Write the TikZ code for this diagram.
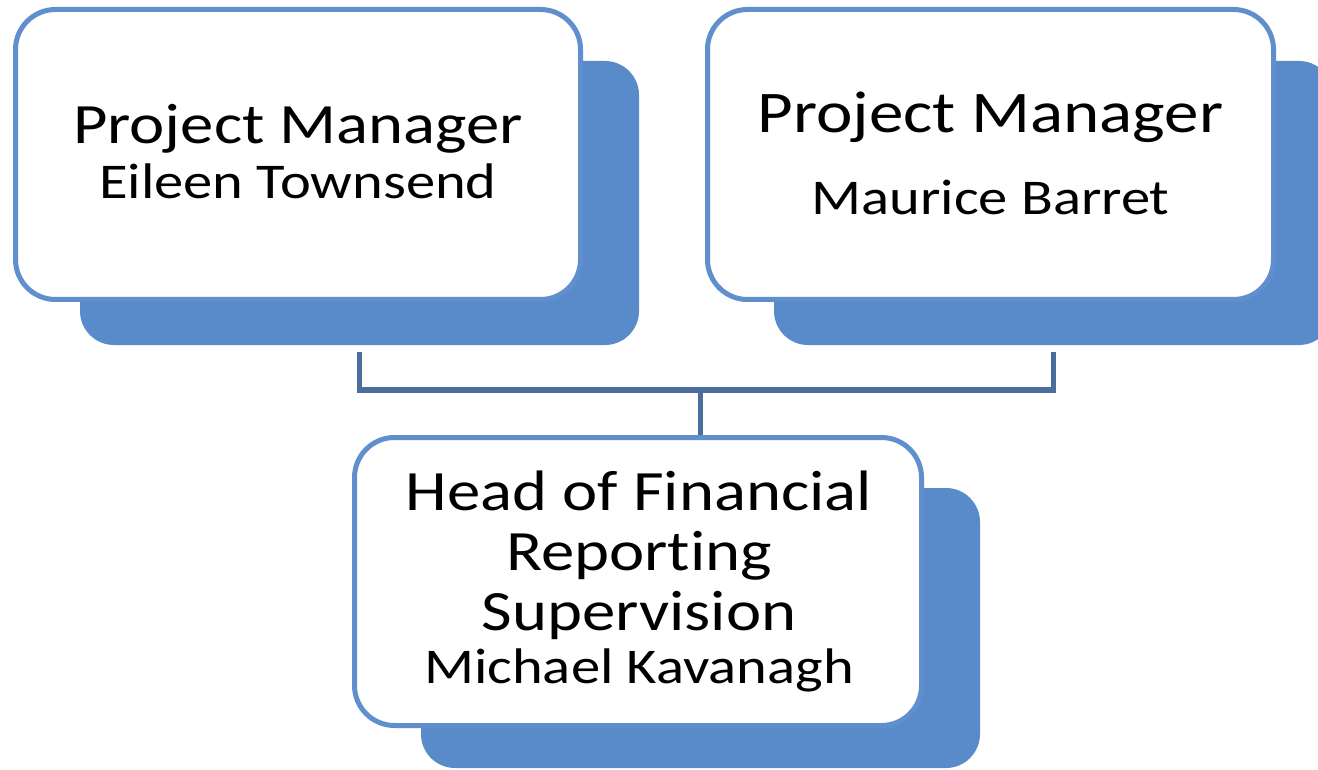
\documentclass[tikz,border=0pt]{standalone}
\usepackage{fontspec}
\setmainfont{Carlito}[FakeStretch=1.17,Ligatures=CommonOff]
\definecolor{shadowblue}{RGB}{89,139,202}
\definecolor{edgeblue}{RGB}{95,143,205}
\definecolor{linkblue}{RGB}{76,110,156}
\begin{document}
\begin{tikzpicture}[x=1pt,y=-1pt,
  shadowbox/.style={rectangle, draw=none, fill=shadowblue, rounded corners=34pt, inner sep=0pt, minimum width=559pt},
  whitebox/.style={rectangle, draw=edgeblue, line width=5pt, fill=white, rounded corners=40pt, inner sep=0pt},
  bigtext/.style={font=\fontsize{57}{60}\selectfont, inner sep=0pt, anchor=base, text=black},
  smalltext/.style={font=\fontsize{50}{52}\selectfont, inner sep=0pt, anchor=base, text=black},
  conn/.style={draw=linkblue, line width=5.5pt}]
\clip (0,0) rectangle (1318,770);
\fill[white] (0,0) rectangle (1318,770);
% shadows
\node[shadowbox, minimum height=284pt] (s1) at (359.5,203) {};
\node[shadowbox, minimum height=284pt] (s2) at (1053.5,203) {};
\node[shadowbox, minimum height=280pt] (s3) at (700.5,628) {};
% white boxes
\node[whitebox, minimum width=565pt, minimum height=290pt] (b1) at (298,154.5) {};
\node[whitebox, minimum width=566pt, minimum height=290pt] (b2) at (990.5,154.5) {};
\node[whitebox, minimum width=567pt, minimum height=288pt] (b3) at (638,581.5) {};
% connectors
\coordinate (bus) at (700.5,390);
\draw[conn] ([yshift=-7pt]s1.south) |- (bus) -| ([yshift=-7pt]s2.south);
\draw[conn] (bus) -- (bus |- b3.north);
% texts
\node[bigtext] (t1a) at (298,144) {Project Manager};
\node[smalltext] (t1b) at (298,199) {Eileen Townsend};
\node[bigtext, font=\fontsize{59}{62}\selectfont] (t2a) at (990.5,133) {Project Manager};
\node[smalltext] (t2b) at (990.5,215) {Maurice Barret};
\node[bigtext] (t3a) at (639,510) {Head of Financial};
\node[bigtext] (t3b) at (639,570) {Reporting};
\node[bigtext] (t3c) at (639,630) {Supervision};
\node[smalltext] (t3d) at (639,683) {Michael Kavanagh};
\end{tikzpicture}
\end{document}
